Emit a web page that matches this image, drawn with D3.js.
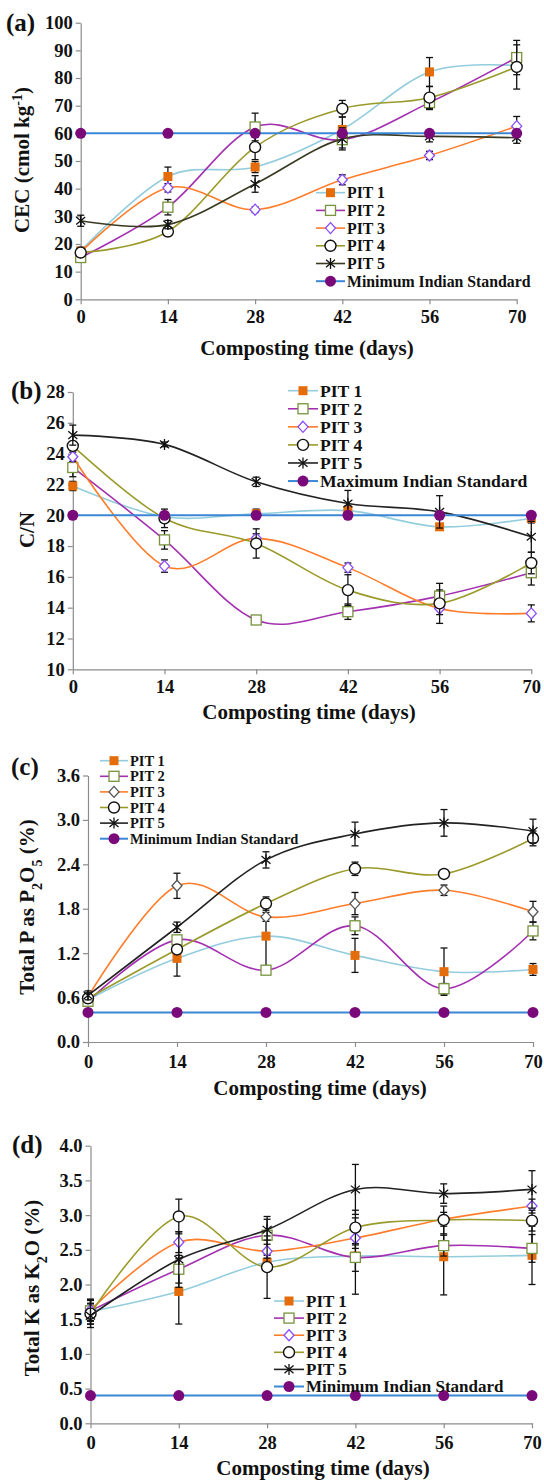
<!DOCTYPE html>
<html lang="en">
<head>
  <meta charset="UTF-8">
  <title>Compost quality over time</title>
  <script src="https://d3js.org/d3.v7.min.js"></script>
  <style>
    body {
      margin: 0;
      background: white;
    }
    svg {
      display: block;
      font-family: "Liberation Serif", "Times New Roman", serif;
      font-weight: bold;
    }
    .axis path, .axis line {
      stroke: #8c8c8c;
      stroke-width: 1.2px;
    }
    .axis text {
      fill: #111;
      font-size: 18.5px;
      font-family: "Liberation Serif", serif;
      font-weight: bold;
    }
  </style>
</head>
<body>
  <svg width="544" height="1480"></svg>

  <script>
    const days = [0, 14, 28, 42, 56, 70];
    const pitNames = ["PIT 1", "PIT 2", "PIT 3", "PIT 4", "PIT 5"];

    // (a) CEC, cmol/kg
    const cecValues = [
      [17.5, 44.4, 47.8, 61.4, 82.2, 84.5],
      [15.1, 33.3, 62.3, 57.7, 71.1, 87.4],
      [17.0, 40.3, 32.4, 43.2, 52.0, 62.6],
      [16.9, 24.5, 55.0, 68.9, 72.9, 84.0],
      [28.4, 27.0, 41.7, 58.0, 58.9, 58.4]
    ];
    const cecErrors = [
      [1.0, 3.4, 2.0, 4.5, 5.2, 2.0],
      [1.0, 2.8, 5.0, 3.0, 2.5, 6.2],
      [1.0, 1.5, 1.0, 1.8, 1.5, 3.5],
      [1.0, 1.5, 4.5, 3.0, 4.0, 8.0],
      [2.0, 1.5, 3.0, 4.0, 2.0, 2.0]
    ];
    const cecStandard = 60;

    // (b) C/N ratio
    const cnValues = [
      [21.9, 19.9, 20.1, 20.3, 19.25, 19.8],
      [23.1, 18.4, 13.2, 13.74, 14.75, 16.27],
      [23.8, 16.7, 18.5, 16.6, 13.95, 13.63],
      [24.5, 19.8, 18.17, 15.14, 14.28, 16.9],
      [25.2, 24.6, 22.17, 20.76, 20.22, 18.6]
    ];
    const cnErrors = [
      [0.3, 0.3, 0.3, 0.3, 0.2, 0.3],
      [0.6, 0.6, 0.2, 0.5, 0.4, 0.8],
      [0.3, 0.4, 0.3, 0.3, 0.4, 0.55],
      [0.3, 0.6, 0.95, 1.0, 1.3, 0.7],
      [0.65, 0.15, 0.3, 0.85, 1.05, 1.0]
    ];
    const cnStandard = 20;

    // (c) total P as P2O5, %
    const phosValues = [
      [0.57, 1.13, 1.43, 1.17, 0.95, 0.98],
      [0.55, 1.38, 0.97, 1.57, 0.72, 1.50],
      [0.61, 2.11, 1.69, 1.87, 2.05, 1.76],
      [0.59, 1.25, 1.87, 2.34, 2.27, 2.75],
      [0.63, 1.55, 2.46, 2.81, 2.96, 2.85]
    ];
    const phosErrors = [
      [0.05, 0.24, 0.42, 0.23, 0.32, 0.08],
      [0.04, 0.05, 0.05, 0.12, 0.07, 0.12],
      [0.04, 0.17, 0.06, 0.15, 0.07, 0.14],
      [0.04, 0.05, 0.09, 0.09, 0.05, 0.10],
      [0.06, 0.07, 0.11, 0.16, 0.18, 0.16]
    ];
    const phosStandard = 0.4;

    // (d) total K as K2O, %
    const potValues = [
      [1.61, 1.90, 2.32, 2.41, 2.40, 2.42],
      [1.62, 2.22, 2.71, 2.39, 2.56, 2.52],
      [1.63, 2.61, 2.48, 2.67, 2.94, 3.13],
      [1.58, 2.98, 2.25, 2.82, 2.93, 2.92],
      [1.55, 2.36, 2.79, 3.37, 3.31, 3.37]
    ];
    const potErrors = [
      [0.18, 0.47, 0.10, 0.55, 0.55, 0.42],
      [0.15, 0.20, 0.27, 0.20, 0.15, 0.20],
      [0.15, 0.15, 0.10, 0.15, 0.10, 0.10],
      [0.15, 0.25, 0.45, 0.25, 0.20, 0.15],
      [0.17, 0.40, 0.15, 0.36, 0.14, 0.27]
    ];
    const potStandard = 0.4;

    const cecTicks = d3.range(0, 101, 10);
    const cnTicks = d3.range(10, 29, 2);
    const phosTicks = [0, 0.6, 1.2, 1.8, 2.4, 3.0, 3.6];
    const potTicks = [0, 0.5, 1.0, 1.5, 2.0, 2.5, 3.0, 3.5, 4.0];

    const lineColors = ["#93cddd", "#a330b0", "#ff7d2a", "#9a9a2a", "#222222"];
    const stdLineColor = "#3c86d6";
    const stdDotColor = "#7a0a7a";

    const svg = d3.select("svg");

    const panels = [
      {
        label: "(a)", labelPos: [6, 31],
        values: cecValues, errors: cecErrors, standard: cecStandard, stdName: "Minimum Indian Standard",
        yDomain: [0, 100], ticks: cecTicks, fmt: d3.format("d"),
        x: [80.7, 516.7], y: [299.3, 22.7],
        yTitle: t => { t.append("tspan").text("CEC (cmol kg"); t.append("tspan").attr("baseline-shift", "super").attr("font-size", "14px").text("-1"); t.append("tspan").text(")"); },
        yTitlePos: [22, 160], xTitleY: 355, xTitleX: 307, tickPad: 6,
        legend: { x0: 316, x1: 345, tx: 347, y: 192.7, dy: 17.7, size: 15.8 },
        diamondStroke: "#8a4cff", pit5Color: "#3a3a22"
      },
      {
        label: "(b)", labelPos: [11, 399],
        values: cnValues, errors: cnErrors, standard: cnStandard, stdName: "Maximum Indian Standard",
        yDomain: [10, 28], ticks: cnTicks, fmt: d3.format("d"),
        x: [72.8, 531.3], y: [669.3, 392],
        yTitle: t => t.text("C/N"),
        yTitlePos: [27, 530], xTitleY: 719, xTitleX: 309, tickPad: 6,
        legend: { x0: 288, x1: 318, tx: 320, y: 390.7, dy: 18.07, size: 17.6 },
        diamondStroke: "#8a4cff", pit5Color: "#222222"
      },
      {
        label: "(c)", labelPos: [11, 775],
        values: phosValues, errors: phosErrors, standard: phosStandard, stdName: "Minimum Indian Standard",
        yDomain: [0, 3.6], ticks: phosTicks, fmt: d3.format(".1f"),
        x: [88, 533], y: [1042, 775.5],
        yTitle: t => { t.append("tspan").text("Total P as P"); t.append("tspan").attr("baseline-shift", "sub").attr("font-size", "14px").text("2"); t.append("tspan").text("O"); t.append("tspan").attr("baseline-shift", "sub").attr("font-size", "14px").text("5"); t.append("tspan").text(" (%)"); },
        yTitlePos: [27, 907], xTitleY: 1095, xTitleX: 320, tickPad: 8,
        legend: { x0: 100, x1: 128, tx: 130, y: 760.7, dy: 15.6, size: 14.5 },
        diamondStroke: "#555555", pit5Color: "#222222"
      },
      {
        label: "(d)", labelPos: [12, 1153],
        values: potValues, errors: potErrors, standard: potStandard, stdName: "Minimum Indian Standard",
        yDomain: [0, 4], ticks: potTicks, fmt: d3.format(".1f"),
        x: [90.5, 532], y: [1423.3, 1145.7],
        yTitle: t => { t.append("tspan").text("Total K as K"); t.append("tspan").attr("baseline-shift", "sub").attr("font-size", "14px").text("2"); t.append("tspan").text("O (%)"); },
        yTitlePos: [32, 1288], xTitleY: 1475, xTitleX: 323, tickPad: 8,
        legend: { x0: 274, x1: 304, tx: 306, y: 1301, dy: 17.1, size: 17 },
        diamondStroke: "#8a4cff", pit5Color: "#222222"
      }
    ];

    // marker drawing, one kind per series (0..4) and 5 = standard
    function drawMarker(g, kind, p) {
      if (kind === 0) {
        g.append("rect").attr("x", -4.5).attr("y", -4.5).attr("width", 9).attr("height", 9)
          .attr("fill", "#e46c0a");
      } else if (kind === 1) {
        g.append("rect").attr("x", -5).attr("y", -5).attr("width", 10).attr("height", 10)
          .attr("fill", "white").attr("stroke", "#77933c").attr("stroke-width", 1.3);
      } else if (kind === 2) {
        g.append("path").attr("d", "M0,-5.5L5,0L0,5.5L-5,0Z")
          .attr("fill", "white").attr("stroke", p.diamondStroke).attr("stroke-width", 1.3);
      } else if (kind === 3) {
        g.append("circle").attr("r", 5.5)
          .attr("fill", "white").attr("stroke", "#111").attr("stroke-width", 1.4);
      } else if (kind === 4) {
        g.append("path").attr("d", "M0,-5.5V5.5M-4.5,-3.8L4.5,3.8M-4.5,3.8L4.5,-3.8")
          .attr("fill", "none").attr("stroke", "#111").attr("stroke-width", 1.3);
      } else {
        g.append("circle").attr("r", 5.5).attr("fill", stdDotColor);
      }
    }

    panels.forEach(p => {
      const x = d3.scaleLinear().domain([0, 70]).range(p.x);
      const y = d3.scaleLinear().domain(p.yDomain).range(p.y);
      const g = svg.append("g");

      // axes
      g.append("g").attr("class", "axis")
        .attr("transform", `translate(${p.x[0]},0)`)
        .call(d3.axisLeft(y).tickValues(p.ticks).tickFormat(p.fmt).tickSize(5).tickPadding(3).tickSizeOuter(0));
      g.append("g").attr("class", "axis")
        .attr("transform", `translate(0,${p.y[0]})`)
        .call(d3.axisBottom(x).tickValues(days).tickSize(5).tickPadding(p.tickPad).tickSizeOuter(0));

      const line = d3.line()
        .x((d, i) => x(days[i]))
        .y(d => y(d))
        .curve(d3.curveCardinal.tension(0));

      p.values.forEach((vals, s) => {
        const color = s === 4 ? p.pit5Color : lineColors[s];
        g.append("path")
          .datum(vals)
          .attr("fill", "none")
          .attr("stroke", color)
          .attr("stroke-width", 1.6)
          .attr("d", line);

        // error bars
        const eb = g.append("g").attr("stroke", "#111").attr("stroke-width", 1.3);
        vals.forEach((v, i) => {
          const e = p.errors[s][i];
          const cx = x(days[i]);
          eb.append("line").attr("x1", cx).attr("x2", cx).attr("y1", y(v - e)).attr("y2", y(v + e));
          eb.append("line").attr("x1", cx - 3.5).attr("x2", cx + 3.5).attr("y1", y(v + e)).attr("y2", y(v + e));
          eb.append("line").attr("x1", cx - 3.5).attr("x2", cx + 3.5).attr("y1", y(v - e)).attr("y2", y(v - e));
        });

        vals.forEach((v, i) => {
          const m = g.append("g").attr("transform", `translate(${x(days[i])},${y(v)})`);
          drawMarker(m, s, p);
        });
      });

      // indian standard
      g.append("line")
        .attr("x1", x(0)).attr("x2", x(70))
        .attr("y1", y(p.standard)).attr("y2", y(p.standard))
        .attr("stroke", stdLineColor).attr("stroke-width", 2);
      days.forEach(d => {
        const m = g.append("g").attr("transform", `translate(${x(d)},${y(p.standard)})`);
        drawMarker(m, 5, p);
      });

      // legend
      const L = p.legend;
      const legendNames = pitNames.concat([p.stdName]);
      legendNames.forEach((name, i) => {
        const ly = L.y + i * L.dy;
        const color = i === 5 ? stdLineColor : (i === 4 ? p.pit5Color : lineColors[i]);
        g.append("line").attr("x1", L.x0).attr("x2", L.x1).attr("y1", ly).attr("y2", ly)
          .attr("stroke", color).attr("stroke-width", i === 5 ? 2 : 1.6);
        const m = g.append("g").attr("transform", `translate(${(L.x0 + L.x1) / 2},${ly})`);
        drawMarker(m, i, p);
        g.append("text").attr("x", L.tx).attr("y", ly).attr("dy", "0.35em")
          .attr("font-size", L.size + "px").attr("fill", "#111").text(name);
      });

      // titles
      g.append("text").attr("x", p.xTitleX).attr("y", p.xTitleY)
        .attr("text-anchor", "middle").attr("font-size", "21px").attr("fill", "#111")
        .text("Composting time (days)");
      const yt = g.append("text")
        .attr("transform", `translate(${p.yTitlePos[0]},${p.yTitlePos[1]}) rotate(-90)`)
        .attr("text-anchor", "middle").attr("dy", "0.35em")
        .attr("font-size", "21px").attr("fill", "#111");
      p.yTitle(yt);
      g.append("text").attr("x", p.labelPos[0]).attr("y", p.labelPos[1])
        .attr("font-size", "25px").attr("fill", "#111").text(p.label);
    });
  </script>
</body>
</html>
